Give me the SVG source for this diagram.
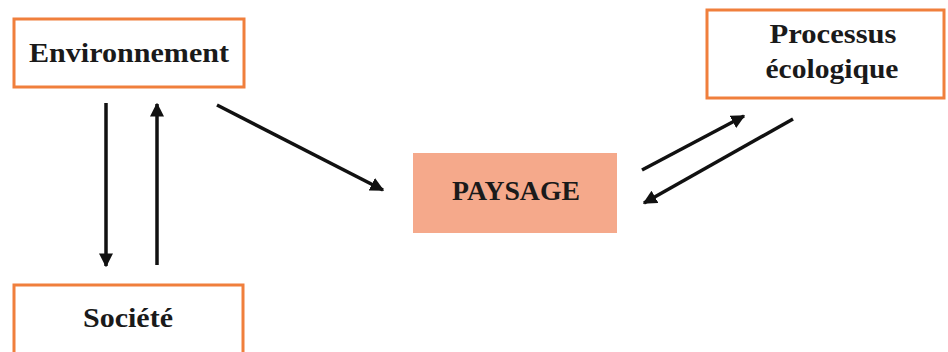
<svg xmlns="http://www.w3.org/2000/svg" width="948" height="352" viewBox="0 0 948 352">
<style>
.box{fill:#fff;stroke:#F07F3C;stroke-width:3}
.t{font-family:"Liberation Serif","Times New Roman",serif;font-weight:bold;font-size:28px;fill:#1a1a1a;text-anchor:middle}
.c{stroke:#111;stroke-width:3.5;fill:none;marker-end:url(#ah)}
</style>
<defs>
<marker id="ah" viewBox="0 0 10 10" refX="9" refY="5" markerWidth="4" markerHeight="4" orient="auto" markerUnits="strokeWidth">
<path d="M0,0 L10,5 L0,10 z" fill="#111"/>
</marker>
</defs>
<rect width="948" height="352" fill="#fff"/>
<g id="environnement">
<rect class="box" x="14" y="19" width="230" height="68"/>
<text class="t" x="129" y="62" textLength="200" lengthAdjust="spacingAndGlyphs">Environnement</text>
</g>
<g id="societe">
<rect class="box" x="14" y="285" width="229" height="70"/>
<text class="t" x="128" y="327" textLength="90" lengthAdjust="spacingAndGlyphs">Société</text>
</g>
<g id="paysage">
<rect x="413" y="153" width="204" height="80" fill="#F5A98B"/>
<text class="t" x="516" y="200" font-size="27" textLength="128" lengthAdjust="spacingAndGlyphs">PAYSAGE</text>
</g>
<g id="processus">
<rect class="box" x="707" y="10" width="237" height="88"/>
<text class="t" x="833" y="43" textLength="127" lengthAdjust="spacingAndGlyphs">Processus</text>
<text class="t" x="832" y="78" textLength="133" lengthAdjust="spacingAndGlyphs">écologique</text>
</g>
<g id="connectors">
<line class="c" x1="106" y1="103" x2="106" y2="266"/>
<line class="c" x1="157" y1="265" x2="157" y2="104"/>
<line class="c" x1="217" y1="105" x2="383" y2="190"/>
<line class="c" x1="642" y1="170" x2="744" y2="116"/>
<line class="c" x1="793" y1="119" x2="644" y2="203"/>
</g>
</svg>
